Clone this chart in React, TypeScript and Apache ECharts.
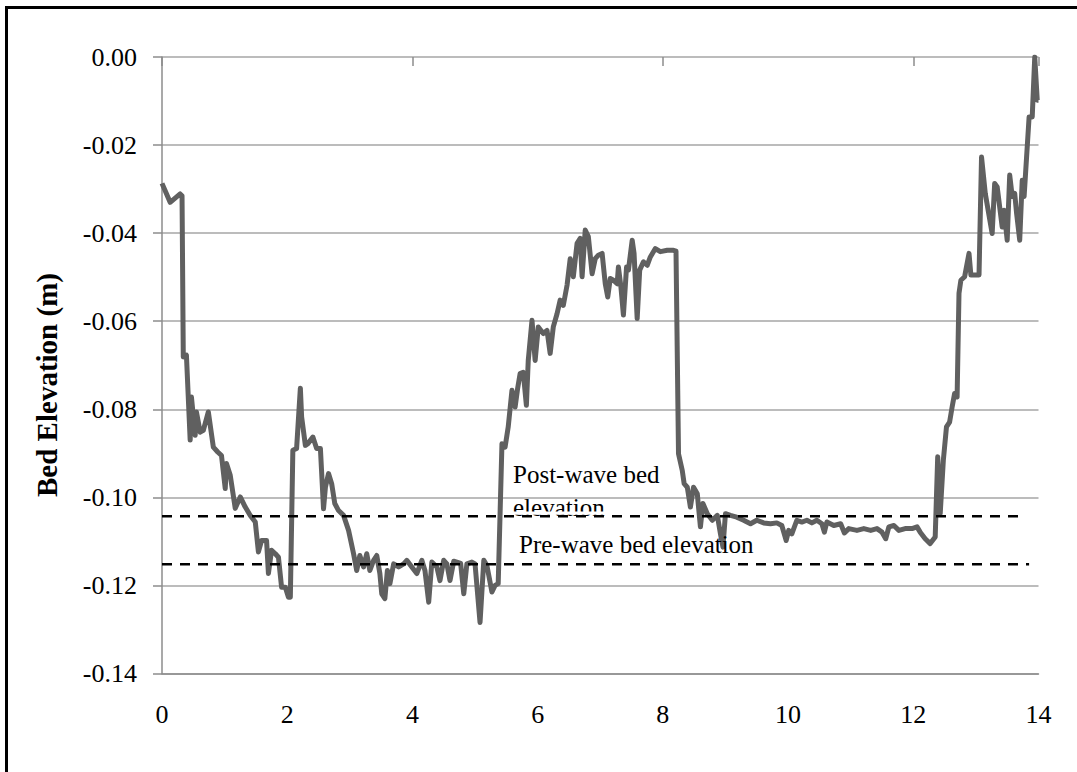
import React, { useEffect, useRef } from "react";
import * as echarts from "echarts";

// Distance along profile (x, unit as in source) and bed elevation (m)
const distance = [
  0.0, 0.13, 0.29, 0.32, 0.34, 0.39, 0.45, 0.47, 0.53, 0.55, 0.61, 0.66, 0.74, 0.82, 0.89, 0.95,
  1.01, 1.03, 1.09, 1.17, 1.25, 1.33, 1.41, 1.49, 1.54, 1.59, 1.67, 1.7, 1.75, 1.81, 1.86, 1.91,
  1.97, 2.02, 2.05, 2.09, 2.15, 2.21, 2.23, 2.29, 2.33, 2.41, 2.47, 2.53, 2.58, 2.61, 2.66, 2.71,
  2.76, 2.82, 2.9, 2.98, 3.06, 3.11, 3.16, 3.22, 3.27, 3.32, 3.38, 3.43, 3.48, 3.51, 3.56, 3.6,
  3.64, 3.7, 3.78, 3.86, 3.91, 3.99, 4.07, 4.15, 4.2, 4.26, 4.31, 4.39, 4.44, 4.5, 4.55, 4.6,
  4.66, 4.71, 4.77, 4.82, 4.87, 4.95, 5.0, 5.08, 5.14, 5.19, 5.27, 5.32, 5.37, 5.43, 5.48, 5.53,
  5.59, 5.64, 5.68, 5.72, 5.77, 5.82, 5.85, 5.91, 5.96, 6.01, 6.09, 6.15, 6.2, 6.25, 6.31, 6.36,
  6.41, 6.47, 6.52, 6.57, 6.63, 6.68, 6.71, 6.76, 6.81, 6.87, 6.92, 6.97, 7.03, 7.08, 7.12, 7.16,
  7.21, 7.27, 7.29, 7.33, 7.37, 7.42, 7.45, 7.51, 7.54, 7.59, 7.63, 7.69, 7.75, 7.8, 7.88, 7.96,
  8.07, 8.17, 8.21, 8.25, 8.31, 8.34, 8.39, 8.44, 8.49, 8.55, 8.6, 8.64, 8.71, 8.79, 8.87, 8.92,
  8.96, 9.0, 9.08, 9.18, 9.29, 9.4, 9.5, 9.61, 9.72, 9.82, 9.9, 9.97, 10.01, 10.06, 10.14, 10.22,
  10.3, 10.38, 10.46, 10.54, 10.58, 10.62, 10.73, 10.84, 10.9, 10.97, 11.1, 11.21, 11.32, 11.42,
  11.5, 11.56, 11.61, 11.69, 11.77, 11.87, 11.98, 12.06, 12.11, 12.19, 12.27, 12.35, 12.39, 12.43,
  12.48, 12.53, 12.58, 12.62, 12.66, 12.7, 12.73, 12.76, 12.82, 12.89, 12.92, 13.05, 13.09, 13.15,
  13.26, 13.3, 13.34, 13.42, 13.45, 13.5, 13.54, 13.58, 13.62, 13.65, 13.7, 13.74, 13.77, 13.79,
  13.85, 13.9, 13.94, 13.98, 14.0,
];
const elevation = [
  -0.0287, -0.033, -0.0311, -0.0315, -0.0681, -0.0677, -0.087, -0.0772, -0.0859, -0.0806, -0.0852,
  -0.0848, -0.0806, -0.0886, -0.0897, -0.0905, -0.098, -0.0923, -0.095, -0.1025, -0.0999, -0.1022,
  -0.1041, -0.1056, -0.1124, -0.1098, -0.1098, -0.1173, -0.112, -0.1128, -0.1136, -0.1204, -0.1204,
  -0.1227, -0.1227, -0.0893, -0.0889, -0.0752, -0.0817, -0.0882, -0.0878, -0.0863, -0.0889, -0.0889,
  -0.1026, -0.0977, -0.0946, -0.0969, -0.1014, -0.103, -0.1041, -0.1075, -0.1128, -0.1166, -0.1132,
  -0.1158, -0.1128, -0.1166, -0.1143, -0.1132, -0.1173, -0.1219, -0.123, -0.1166, -0.1196, -0.1151,
  -0.1158, -0.1151, -0.1143, -0.1158, -0.1173, -0.1143, -0.1166, -0.1238, -0.1147, -0.1158, -0.1189,
  -0.1143, -0.1151, -0.1189, -0.1145, -0.1147, -0.115, -0.1219, -0.1151, -0.1147, -0.1151, -0.1284,
  -0.1143, -0.1155, -0.1215, -0.12, -0.1196, -0.0878, -0.0886, -0.084, -0.0757, -0.0795, -0.0753,
  -0.0719, -0.0716, -0.0791, -0.0689, -0.0598, -0.0689, -0.0613, -0.0628, -0.0621, -0.0673, -0.0613,
  -0.0583, -0.0552, -0.0564, -0.0518, -0.0458, -0.0499, -0.0423, -0.0412, -0.0499, -0.0393, -0.0408,
  -0.0492, -0.0458, -0.045, -0.0446, -0.0515, -0.0545, -0.0503, -0.0507, -0.0515, -0.0477, -0.0522,
  -0.0586, -0.0477, -0.0484, -0.0416, -0.0446, -0.0594, -0.0484, -0.0465, -0.0473, -0.0454, -0.0435,
  -0.0442, -0.0439, -0.0439, -0.0441, -0.0901, -0.0939, -0.0969, -0.0977, -0.1022, -0.0977, -0.0992,
  -0.1067, -0.1014, -0.1037, -0.1052, -0.1041, -0.1083, -0.1113, -0.1037, -0.1041, -0.1045, -0.1052,
  -0.106, -0.1052, -0.1058, -0.106, -0.1058, -0.1064, -0.1098, -0.1075, -0.1083, -0.1052, -0.1056,
  -0.1052, -0.1058, -0.1052, -0.106, -0.1079, -0.1056, -0.1064, -0.106, -0.1081, -0.1071, -0.1075,
  -0.1071, -0.1075, -0.1071, -0.1079, -0.1094, -0.1067, -0.1064, -0.1075, -0.1071, -0.1071, -0.1067,
  -0.1079, -0.1094, -0.1105, -0.109, -0.0908, -0.1037, -0.0916, -0.084, -0.0829, -0.0795, -0.0764,
  -0.0772, -0.0537, -0.0507, -0.0499, -0.0446, -0.0495, -0.0495, -0.0227, -0.031, -0.0401, -0.0287,
  -0.0295, -0.0386, -0.0348, -0.0416, -0.0268, -0.0317, -0.031, -0.0355, -0.0416, -0.028, -0.0317,
  -0.0272, -0.0136, -0.0136, 0.0, -0.0098, -0.0098,
];

const xTicks = [0, 2, 4, 6, 8, 10, 12, 14];
const yTicks = ["0.00", "-0.02", "-0.04", "-0.06", "-0.08", "-0.10", "-0.12", "-0.14"];
const postWaveLevel = -0.1043;
const preWaveLevel = -0.1152;
const postWaveExtent = [0, 13.8];
const preWaveExtent = [0, 13.85];
const yAxisTitle = "Bed Elevation (m)";
const postWaveText = ["Post-wave bed", "elevation"];
const preWaveText = "Pre-wave bed elevation";

export default function App() {
  const ref = useRef<HTMLDivElement>(null);
  useEffect(() => {
    document.body.style.margin = "0";
    const chart = echarts.init(ref.current!, null, { renderer: "svg" });
    const font = "'Liberation Serif', 'Times New Roman', serif";
    const axisGray = "#8c8c8c";
    const fmtY = (v: number) => {
      const s = (Math.abs(v) < 1e-9 ? 0 : v).toFixed(2);
      return yTicks.includes(s) ? s : "";
    };
    chart.setOption({
      animation: false,
      backgroundColor: "#ffffff",
      grid: { left: 162, right: 38.5, top: 57, bottom: 98.5, containLabel: false },
      xAxis: [
        {
          type: "value",
          min: xTicks[0],
          max: xTicks[xTicks.length - 1],
          interval: 2,
          axisLine: { show: true, onZero: false, lineStyle: { color: axisGray, width: 1.5 } },
          axisTick: { show: false },
          splitLine: { show: false },
          axisLabel: {
            fontFamily: font,
            fontSize: 26,
            color: "#000",
            margin: 28,
            formatter: (v: number) => String(Math.round(v)),
          },
        },
        {
          type: "value",
          position: "top",
          min: 0,
          max: 14,
          interval: 4,
          axisLine: { show: false },
          axisTick: { show: true, inside: true, length: 9, lineStyle: { color: axisGray, width: 1.5 } },
          axisLabel: { show: false },
          splitLine: { show: false },
        },
      ],
      yAxis: {
        type: "value",
        min: -0.14,
        max: 0,
        interval: 0.02,
        axisLine: { show: true, onZero: false, lineStyle: { color: axisGray, width: 1.5 } },
        axisTick: { show: true, length: 9, lineStyle: { color: axisGray, width: 1.5 } },
        splitLine: { show: true, lineStyle: { color: "#a6a6a6", width: 1.5 } },
        axisLabel: {
          fontFamily: font,
          fontSize: 26,
          color: "#000",
          margin: 25,
          formatter: fmtY,
        },
      },
      series: [
        {
          type: "line",
          data: distance.map((x, i) => [x, elevation[i]]),
          showSymbol: false,
          symbol: "none",
          lineStyle: { color: "#606060", width: 5, join: "round" },
          z: 3,
        },
        {
          type: "line",
          data: postWaveExtent.map((x) => [x, postWaveLevel]),
          showSymbol: false,
          symbol: "none",
          lineStyle: { color: "#000", width: 2.5, type: [10, 8] },
          z: 4,
        },
        {
          type: "line",
          data: preWaveExtent.map((x) => [x, preWaveLevel]),
          showSymbol: false,
          symbol: "none",
          lineStyle: { color: "#000", width: 2.5, type: [10, 8] },
          z: 4,
        },
      ],
      graphic: [
        {
          type: "rect",
          shape: { x: 6.5, y: 7.5, width: 1200, height: 1000 },
          style: { fill: "none", stroke: "#000", lineWidth: 3 },
          silent: true,
        },
        {
          type: "text",
          x: 47,
          y: 385,
          rotation: Math.PI / 2,
          style: {
            text: yAxisTitle,
            fontFamily: font,
            fontWeight: "bold",
            fontSize: 29,
            fill: "#000",
            align: "center",
            verticalAlign: "middle",
          },
        },
        {
          type: "text",
          x: 513,
          y: 474,
          style: {
            text: postWaveText[0],
            fontFamily: font,
            fontSize: 25,
            fill: "#000",
            align: "left",
            verticalAlign: "middle",
          },
          z: 5,
        },
        {
          type: "text",
          x: 513,
          y: 507,
          style: {
            text: postWaveText[1],
            fontFamily: font,
            fontSize: 25,
            fill: "#000",
            align: "left",
            verticalAlign: "middle",
          },
          z: 5,
        },
        {
          type: "rect",
          shape: { x: 511, y: 511.5, width: 110, height: 3.2 },
          style: { fill: "#ffffff" },
          z: 6,
          silent: true,
        },
        {
          type: "text",
          x: 519,
          y: 544.5,
          style: {
            text: preWaveText,
            fontFamily: font,
            fontSize: 25,
            fill: "#000",
            align: "left",
            verticalAlign: "middle",
          },
          z: 5,
        },
      ],
    });
    return () => chart.dispose();
  }, []);
  return <div ref={ref} style={{ width: 1077, height: 772 }} />;
}
